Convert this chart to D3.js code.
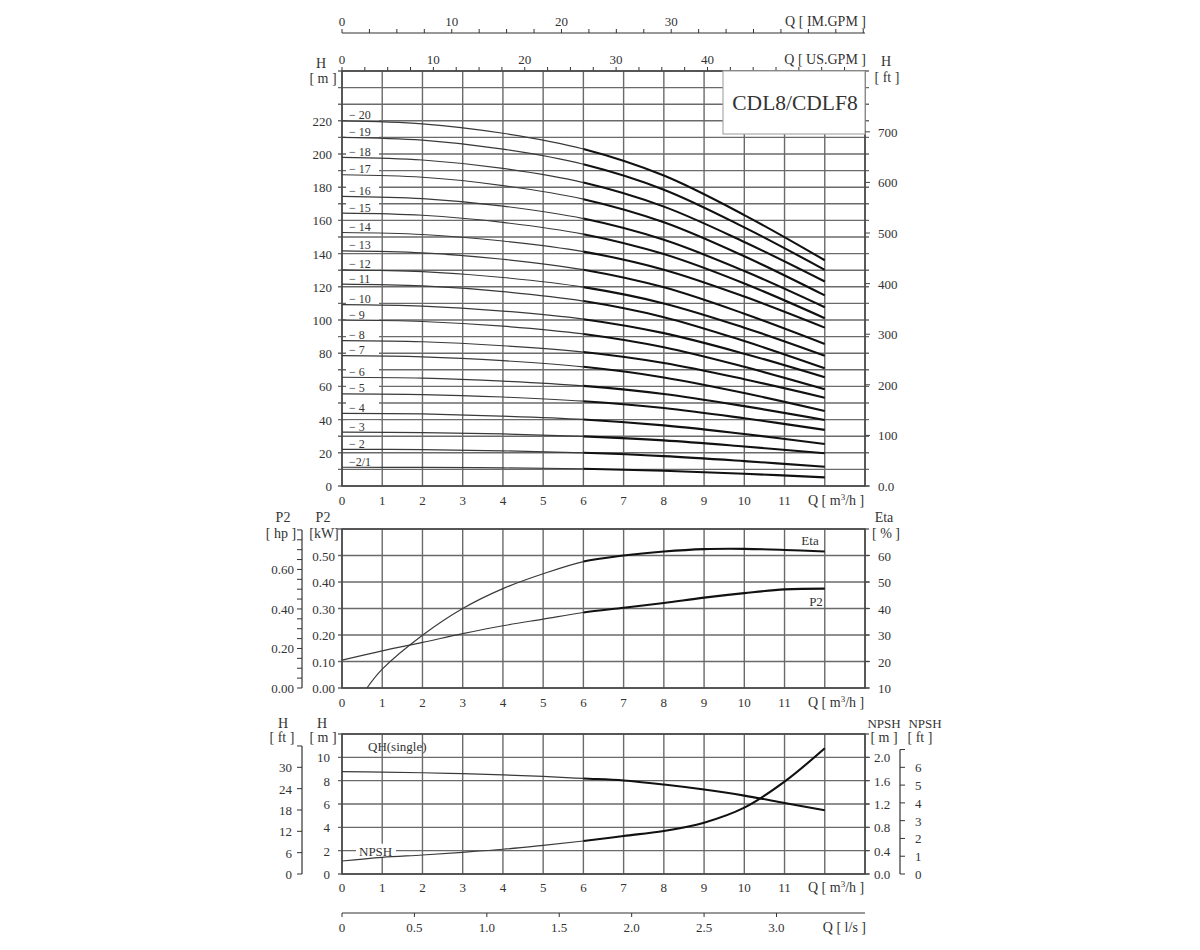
<!DOCTYPE html>
<html><head><meta charset="utf-8">
<script src="https://cdn.jsdelivr.net/npm/d3@7"></script>
<style>body{margin:0;background:#fff}svg text{font-family:"Liberation Serif","Times New Roman",serif;fill:#333}</style>
</head><body><svg id="c" width="1200" height="950"></svg>
<script>
// ---------- DATA ----------
const qStage = [0, 2, 4, 6, 8, 10, 12];
const stageLabels = ["20","19","18","17","16","15","14","13","12","11","10","9","8","7","6","5","4","3","2","2/1"];
const h20 = [220, 218.2, 212.5, 203, 187, 163.2, 136];
const h19 = [210, 208.3, 202.9, 193.8, 178.5, 155.8, 130.2];
const h18 = [198, 196.4, 191.3, 182.8, 168.3, 147, 123.2];
const h17 = [187.5, 186, 181, 172.8, 158.9, 138.4, 114.8];
const h16 = [174.5, 173.1, 168.6, 161.1, 148.3, 129.5, 107.7];
const h15 = [164.4, 163.1, 158.8, 151.7, 139.7, 122, 101.1];
const h14 = [152.7, 151.5, 147.6, 141.2, 130.3, 114.1, 95.4];
const h13 = [141.6, 140.4, 136.6, 130.3, 119.7, 103.8, 85.6];
const h12 = [130.2, 129.1, 125.6, 119.8, 110, 95.4, 78.5];
const h11 = [121.6, 120.5, 117.1, 111.4, 101.7, 87.3, 70.9];
const h10 = [109.3, 108.4, 105.4, 100.5, 92.1, 79.7, 65.5];
const h9  = [100, 99.1, 96.3, 91.6, 83.6, 71.8, 58.3];
const h8  = [87.6, 86.9, 84.5, 80.7, 74.1, 64.3, 53.2];
const h7  = [78.5, 77.8, 75.5, 71.8, 65.4, 56, 45.2];
const h6  = [65.5, 65, 63.2, 60.3, 55.4, 48.1, 39.8];
const h5  = [55.5, 55.1, 53.6, 51.1, 47, 40.8, 33.8];
const h4  = [43.8, 43.4, 42.1, 40.1, 36.5, 31.3, 25.3];
const h3  = [32.5, 32.2, 31.4, 29.9, 27.5, 23.8, 19.7];
const h2  = [22.1, 21.9, 21.2, 20, 18, 15, 11.6];
const h2_1 = [11.3, 11.2, 10.9, 10.4, 9.2, 7.4, 5.2];
const stageHeads = [h20,h19,h18,h17,h16,h15,h14,h13,h12,h11,h10,h9,h8,h7,h6,h5,h4,h3,h2,h2_1];

const qFull = [0,1,2,3,4,5,6,7,8,9,10,11,12];
const p2Kw = [0.105, 0.14, 0.172, 0.205, 0.235, 0.26, 0.285, 0.303, 0.321, 0.341, 0.358, 0.372, 0.375];
const qEta = [0.62,1,2,3,4,5,6,7,8,9,10,11,12];
const etaPct = [10, 17.1, 29.9, 40, 47.5, 53.1, 57.7, 60, 61.5, 62.4, 62.5, 62.1, 61.5];
const qhSingle = [8.77, 8.73, 8.68, 8.6, 8.5, 8.36, 8.19, 8.02, 7.67, 7.24, 6.72, 6.09, 5.46];
const npshM = [0.223, 0.286, 0.326, 0.372, 0.424, 0.492, 0.566, 0.652, 0.738, 0.88, 1.137, 1.583, 2.156];

const qTicks = [0,1,2,3,4,5,6,7,8,9,10,11];
const hTicks = [0,20,40,60,80,100,120,140,160,180,200,220];
const ftTicks = [0,100,200,300,400,500,600,700];
const kwTicks = [0,0.1,0.2,0.3,0.4,0.5];
const hpTicks = [0,0.2,0.4,0.6];
const etaTicks = [10,20,30,40,50,60];
const hbTicks = [0,2,4,6,8,10];
const hbFtTicks = [0,6,12,18,24,30];
const npshTicks = [0,0.4,0.8,1.2,1.6,2.0];
const npshFtTicks = [0,1,2,3,4,5,6];
const lsTicks = [0,0.5,1.0,1.5,2.0,2.5,3.0];
const usTicks = [0,10,20,30,40];
const imTicks = [0,10,20,30];

// ---------- SCALES ----------
const svg = d3.select("#c");
const x = d3.scaleLinear().domain([0,13]).range([342,865]);
const yH = d3.scaleLinear().domain([0,250]).range([486,71]);
const yFt = d3.scaleLinear().domain([0,250/0.3048]).range([486,71]);
const yKw = d3.scaleLinear().domain([0,0.6]).range([688,529]);
const yHp = d3.scaleLinear().domain([0,0.6/0.7457]).range([688,529]);
const yEta = d3.scaleLinear().domain([10,70]).range([688,529]);
const yB = d3.scaleLinear().domain([0,12]).range([874,734]);
const yBft = d3.scaleLinear().domain([0,12/0.3048]).range([874,734]);
const yN = d3.scaleLinear().domain([0,2.4]).range([874,734]);
const yNft = d3.scaleLinear().domain([0,2.4/0.3048]).range([874,734]);
const xUs = d3.scaleLinear().domain([0,13/0.22712]).range([342,865]);
const xIm = d3.scaleLinear().domain([0,13/0.27277]).range([342,865]);
const xLs = d3.scaleLinear().domain([0,13/3.6]).range([342,865]);

const GRID = "#6a6a6a";
function txt(t, px, py, size, anchor){
  return svg.append("text").attr("x",px).attr("y",py).attr("font-size",size).attr("text-anchor",anchor||"middle").text(t);
}
function qtxt(px, py){ // Q [ m3/h ]
  const t = svg.append("text").attr("x",px).attr("y",py).attr("font-size",14).attr("text-anchor","start");
  t.append("tspan").text("Q  [ m");
  t.append("tspan").attr("font-size",9).attr("dy",-5).text("3");
  t.append("tspan").attr("dy",5).text("/h ]");
}
function grid(yScale, yVals, top, bottom){
  const g = svg.append("g");
  d3.range(0,14).forEach(q=>{
    g.append("line").attr("x1",x(q)).attr("x2",x(q)).attr("y1",top).attr("y2",bottom)
     .attr("stroke",GRID).attr("stroke-width",1.4);
  });
  yVals.forEach(v=>{
    g.append("line").attr("x1",338).attr("x2",869).attr("y1",yScale(v)).attr("y2",yScale(v))
     .attr("stroke",GRID).attr("stroke-width",1.4);
  });
}
const lineGen = (xs, ys, yScale) => d3.line().x((d,i)=>x(xs[i])).y((d,i)=>yScale(ys[i])).curve(d3.curveCatmullRom.alpha(0.5))(ys);
// clip for bold operating range (Q >= 6)
const defs = svg.append("defs");
defs.append("clipPath").attr("id","thin").append("rect").attr("x",0).attr("y",0).attr("width",x(6)).attr("height",950);
defs.append("clipPath").attr("id","bold").append("rect").attr("x",x(6)).attr("y",0).attr("width",400).attr("height",950);
function curve(xs, ys, yScale){
  const d = lineGen(xs, ys, yScale);
  svg.append("path").attr("d",d).attr("fill","none").attr("stroke","#3a3a3a").attr("stroke-width",1.2).attr("clip-path","url(#thin)");
  svg.append("path").attr("d",d).attr("fill","none").attr("stroke","#111").attr("stroke-width",2.1).attr("clip-path","url(#bold)");
}

// ---------- TOP AXES (GPM) ----------
svg.append("line").attr("x1",342).attr("x2",865).attr("y1",33).attr("y2",33).attr("stroke","#333").attr("stroke-width",1.2);
d3.range(0,48,2.5).forEach(v=>svg.append("line").attr("x1",xIm(v)).attr("x2",xIm(v)).attr("y1",33).attr("y2",29).attr("stroke","#333"));
imTicks.forEach(v=>txt(v, xIm(v), 26, 13));
txt("Q  [ IM.GPM ]", 866, 26, 14, "end");
d3.range(0,57.5,2.5).forEach(v=>svg.append("line").attr("x1",xUs(v)).attr("x2",xUs(v)).attr("y1",71).attr("y2",67).attr("stroke","#333"));
usTicks.forEach(v=>txt(v, xUs(v), 64, 13));
txt("Q  [ US.GPM ]", 866, 64, 14, "end");

// ---------- TOP CHART ----------
grid(yH, d3.range(0,251,10), 71, 486);
svg.append("rect").attr("x",342).attr("y",71).attr("width",523).attr("height",415).attr("fill","none").attr("stroke","#444").attr("stroke-width",1.5);
// title box
svg.append("rect").attr("x",723).attr("y",71).attr("width",142).attr("height",63).attr("fill","#fff").attr("stroke","#aaa").attr("stroke-width",1.2);
txt("CDL8/CDLF8", 795, 110, 21.5);
// left labels
hTicks.forEach(v=>txt(v, 332, yH(v)+5, 13, "end"));
txt("H", 321, 68, 14); txt("[ m ]", 323, 83, 14);
ftTicks.forEach(v=>{
  svg.append("line").attr("x1",865).attr("x2",870).attr("y1",yFt(v)).attr("y2",yFt(v)).attr("stroke","#444");
  txt(v===0?"0.0":v, 878, yFt(v)+5, 13, "start");
});
txt("H", 886, 66, 14); txt("[ ft ]", 887, 82, 14);
qTicks.forEach(v=>txt(v, x(v), 505, 13));
qtxt(808, 505);
// stage labels
stageHeads.forEach((h,i)=>{
  const yy = yH(h[0]) - 1.5;
  svg.append("rect").attr("x",346).attr("y",yy-10).attr("width",33).attr("height",11).attr("fill","#fff");
  txt(stageLabels[i]==="2/1" ? "\u22122/1" : "\u2212 "+stageLabels[i], 349, yy, 12, "start");
});
stageHeads.forEach(h=>curve(qStage, h, yH));

// ---------- MIDDLE CHART ----------
grid(yKw, d3.range(0,0.61,0.1), 529, 688);
svg.append("rect").attr("x",342).attr("y",529).attr("width",523).attr("height",159).attr("fill","none").attr("stroke","#444").attr("stroke-width",1.5);
kwTicks.forEach(v=>txt(v.toFixed(2), 335, yKw(v)+5, 13, "end"));
txt("P2", 323, 522, 14); txt("[kW]", 324, 538, 14);
svg.append("line").attr("x1",302).attr("x2",302).attr("y1",yHp(0)).attr("y2",yHp(0.8)).attr("stroke","#333").attr("stroke-width",1.2);
d3.range(0,0.81,0.05).forEach(v=>svg.append("line").attr("x1",297).attr("x2",302).attr("y1",yHp(v)).attr("y2",yHp(v)).attr("stroke","#333"));
hpTicks.forEach(v=>txt(v.toFixed(2), 294, yHp(v)+5, 13, "end"));
txt("P2", 283, 522, 14); txt("[ hp ]", 281, 538, 14);
etaTicks.forEach(v=>{
  svg.append("line").attr("x1",865).attr("x2",870).attr("y1",yEta(v)).attr("y2",yEta(v)).attr("stroke","#444");
  txt(v, 878, yEta(v)+5, 13, "start");
});
txt("Eta", 884, 522, 14); txt("[ % ]", 886, 538, 14);
qTicks.forEach(v=>txt(v, x(v), 707, 13));
qtxt(808, 707);
curve(qFull, p2Kw, yKw);
curve(qEta, etaPct, yEta);
txt("Eta", 810, 545, 13);
txt("P2", 816, 606, 13);

// ---------- BOTTOM CHART ----------
grid(yB, d3.range(0,12.1,2), 734, 874);
svg.append("rect").attr("x",342).attr("y",734).attr("width",523).attr("height",140).attr("fill","none").attr("stroke","#444").attr("stroke-width",1.5);
hbTicks.forEach(v=>txt(v, 330, yB(v)+5, 13, "end"));
txt("H", 322, 728, 14); txt("[ m ]", 323, 742, 14);
svg.append("line").attr("x1",302).attr("x2",302).attr("y1",yBft(0)).attr("y2",yBft(36)).attr("stroke","#333").attr("stroke-width",1.2);
d3.range(0,37,6).forEach(v=>svg.append("line").attr("x1",297).attr("x2",302).attr("y1",yBft(v)).attr("y2",yBft(v)).attr("stroke","#333"));
hbFtTicks.forEach(v=>txt(v, 292, yBft(v)+5, 13, "end"));
txt("H", 283, 728, 14); txt("[ ft ]", 282, 742, 14);
npshTicks.forEach(v=>{
  svg.append("line").attr("x1",865).attr("x2",870).attr("y1",yN(v)).attr("y2",yN(v)).attr("stroke","#444");
  txt(v.toFixed(1), 874, yN(v)+5, 13, "start");
});
txt("NPSH", 884, 728, 13); txt("[ m ]", 884, 742, 14);
svg.append("line").attr("x1",900).attr("x2",900).attr("y1",yNft(0)).attr("y2",yNft(7)).attr("stroke","#333").attr("stroke-width",1.2);
d3.range(0,8,1).forEach(v=>svg.append("line").attr("x1",900).attr("x2",905).attr("y1",yNft(v)).attr("y2",yNft(v)).attr("stroke","#333"));
npshFtTicks.forEach(v=>txt(v, 915, yNft(v)+5, 13, "start"));
txt("NPSH", 925, 728, 13); txt("[ ft ]", 920, 742, 14);
qTicks.forEach(v=>txt(v, x(v), 892, 13));
qtxt(808, 892);
txt("QH(single)", 368, 751, 13, "start");
svg.append("rect").attr("x",356).attr("y",yB(2)-7).attr("width",40).attr("height",14).attr("fill","#fff");
txt("NPSH", 359, yB(2)+5, 13, "start");
curve(qFull, qhSingle, yB);
curve(qFull, npshM, yN);

// ---------- l/s AXIS ----------
svg.append("line").attr("x1",342).attr("x2",865).attr("y1",913).attr("y2",913).attr("stroke","#333").attr("stroke-width",1.2);
lsTicks.forEach(v=>{
  svg.append("line").attr("x1",xLs(v)).attr("x2",xLs(v)).attr("y1",913).attr("y2",917).attr("stroke","#333");
  txt(v===0?"0":v.toFixed(1), xLs(v), 932, 13);
});
txt("Q  [ l/s ]", 866, 932, 14, "end");
</script></body></html>
